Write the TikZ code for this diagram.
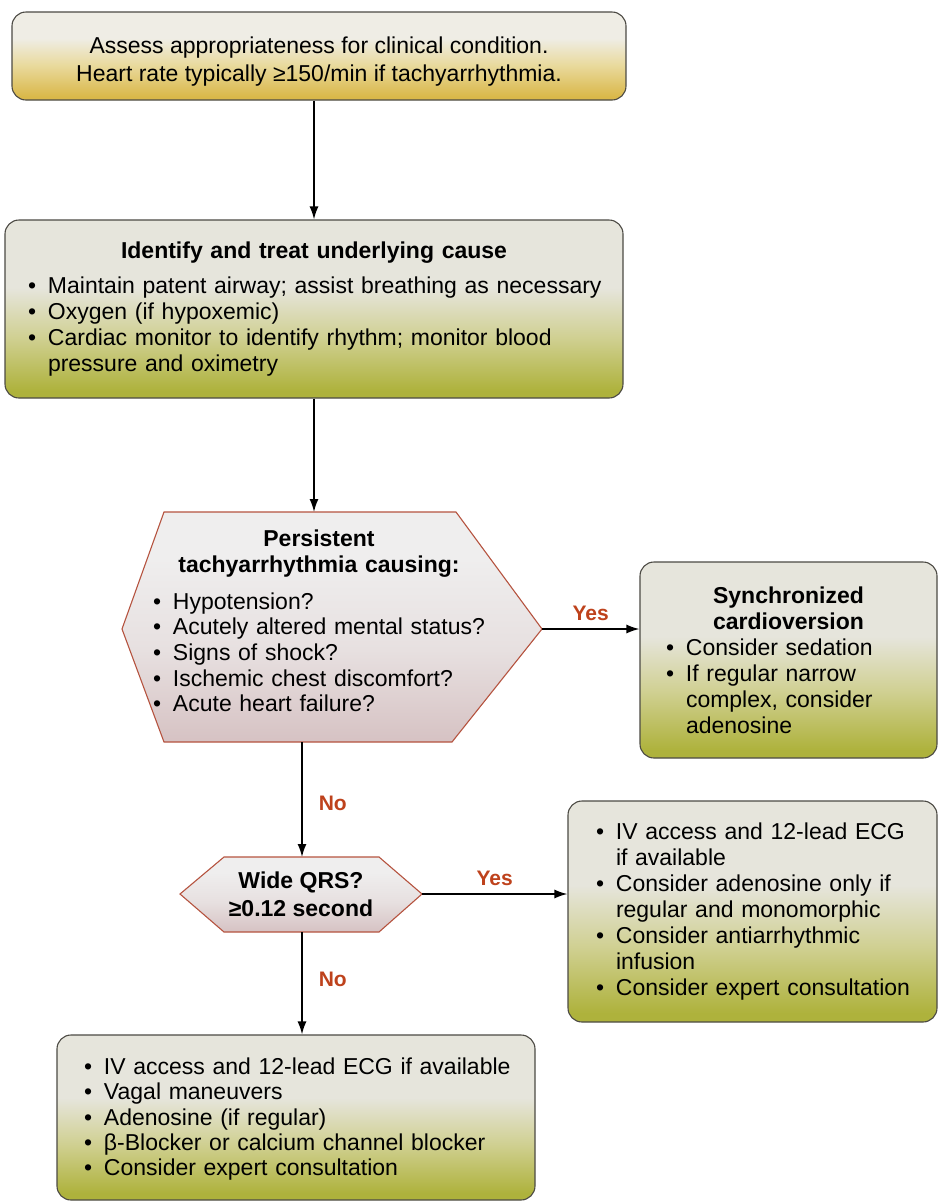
\documentclass[tikz,border=0pt]{standalone}
\usepackage{fontspec}
\setmainfont{Liberation Sans}
\usetikzlibrary{arrows.meta}

\definecolor{boxline}{HTML}{4C4A44}
\definecolor{paleY}{HTML}{EFEDE5}
\definecolor{goldM}{HTML}{E9DA9E}
\definecolor{goldB}{HTML}{DAB84A}
\definecolor{paleG}{HTML}{E6E5DC}
\definecolor{oliveM}{HTML}{D0D092}
\definecolor{oliveB}{HTML}{AEB23C}
\definecolor{hexT}{HTML}{EFEEEE}
\definecolor{hexM}{HTML}{E7E0E0}
\definecolor{hexB}{HTML}{D6C2C3}
\definecolor{hexline}{HTML}{B5533F}
\definecolor{answer}{HTML}{BE421C}

% vertical fades: 25bp = bottom edge, 75bp = top edge
\pgfdeclareverticalshading{goldfade}{100bp}{color(0bp)=(goldB); color(27bp)=(goldB); color(45bp)=(goldM); color(60bp)=(paleY); color(100bp)=(paleY)}
\pgfdeclareverticalshading{olivefade}{100bp}{color(0bp)=(oliveB); color(27bp)=(oliveB); color(42bp)=(oliveM); color(56bp)=(paleG); color(100bp)=(paleG)}
\pgfdeclareverticalshading{rosefade}{100bp}{color(0bp)=(hexB); color(25bp)=(hexB); color(45bp)=(hexM); color(65bp)=(hexT); color(100bp)=(hexT)}

% one bulleted line, a continuation line, and a centred bold heading
\newcommand\itm[1]{\mbox{\makebox[20pt][l]{\textbullet}#1}}
\newcommand\cnt[1]{\mbox{\hspace*{20pt}#1}}
\newcommand\ttl[1]{\makebox[\linewidth][c]{\bfseries #1}}

\tikzset{
  box/.style={draw=boxline, line width=1.1pt, rounded corners=14pt,
    align=left, font=\fontsize{23}{26}\selectfont, inner ysep=0pt},
  hexshape/.style={draw=hexline, line width=1.1pt, shading=rosefade, line join=miter},
  hextext/.style={align=left, font=\fontsize{23}{25.7}\selectfont, inner sep=0pt},
  arr/.style={line width=1.6pt, -{Latex[length=13pt,width=9pt]}},
  lbl/.style={font=\bfseries\fontsize{21}{24}\selectfont, text=answer, inner sep=2pt}
}

\begin{document}
\begin{tikzpicture}[x=1pt,y=-1pt]
\useasboundingbox (0,0) rectangle (938,1203);

% entry box
\node[box, shading=goldfade, align=center, font=\fontsize{23}{28}\selectfont,
      minimum width=614pt, minimum height=88pt] (start) at (319,56)
  {\rule{0pt}{28pt}Assess appropriateness for clinical condition.\\
   Heart rate typically ≥150/min if tachyarrhythmia.};

% underlying cause
\node[box, shading=olivefade, minimum width=618pt, minimum height=178pt,
      inner xsep=23pt, text width=572pt] (cause) at (314,309)
  {\ttl{Identify and treat underlying cause}\\[9pt]
   \itm{Maintain patent airway; assist breathing as necessary}\\
   \itm{Oxygen (if hypoxemic)}\\
   \itm{Cardiac monitor to identify rhythm; monitor blood}\\
   \cnt{pressure and oximetry}};

% first decision hexagon
\coordinate (hA-l)  at (122,629);
\coordinate (hA-tl) at (164,512);
\coordinate (hA-tr) at (456,512);
\coordinate (hA-r)  at (542,629);
\coordinate (hA-br) at (452,742);
\coordinate (hA-bl) at (164,742);
\coordinate (hA-t)  at (314,512);
\coordinate (hA-b)  at (302,742);
\path[hexshape] (hA-l) -- (hA-tl) -- (hA-tr) -- (hA-r) -- (hA-br) -- (hA-bl) -- cycle;
\node[hextext, text width=332pt] (persist) at (319,621)
  {\ttl{Persistent}\\
   \ttl{tachyarrhythmia causing:}\\[11pt]
   \itm{Hypotension?}\\
   \itm{Acutely altered mental status?}\\
   \itm{Signs of shock?}\\
   \itm{Ischemic chest discomfort?}\\
   \itm{Acute heart failure?}};

% cardioversion
\node[box, shading=olivefade, minimum width=297pt, minimum height=196pt,
      inner xsep=26pt, text width=245pt] (cv) at (788.5,660)
  {\ttl{Synchronized}\\
   \ttl{cardioversion}\\
   \itm{Consider sedation}\\
   \itm{If regular narrow}\\
   \cnt{complex, consider}\\
   \cnt{adenosine}};

% second decision hexagon
\coordinate (hB-l)  at (180,894);
\coordinate (hB-tl) at (224,857);
\coordinate (hB-tr) at (379,857);
\coordinate (hB-r)  at (422,894);
\coordinate (hB-br) at (379,932);
\coordinate (hB-bl) at (224,932);
\coordinate (hB-t)  at (302,857);
\coordinate (hB-b)  at (302,932);
\path[hexshape] (hB-l) -- (hB-tl) -- (hB-tr) -- (hB-r) -- (hB-br) -- (hB-bl) -- cycle;
\node[hextext, align=center, font=\bfseries\fontsize{23}{28}\selectfont] (qrs) at (301,894)
  {Wide QRS?\\ ≥0.12 second};

% wide complex
\node[box, shading=olivefade, minimum width=369pt, minimum height=221pt,
      inner xsep=28pt, text width=313pt] (wide) at (752.5,911.5)
  {\itm{IV access and 12-lead ECG}\\
   \cnt{if available}\\
   \itm{Consider adenosine only if}\\
   \cnt{regular and monomorphic}\\
   \itm{Consider antiarrhythmic}\\
   \cnt{infusion}\\
   \itm{Consider expert consultation}};

% narrow complex
\node[box, shading=olivefade, minimum width=478pt, minimum height=165pt,
      inner xsep=27pt, text width=424pt, font=\fontsize{23}{25.4}\selectfont] (narrow) at (296,1117.5)
  {\rule{0pt}{20pt}\itm{IV access and 12-lead ECG if available}\\
   \itm{Vagal maneuvers}\\
   \itm{Adenosine (if regular)}\\
   \itm{β-Blocker or calcium channel blocker}\\
   \itm{Consider expert consultation}};

% connectors
\draw[arr] (cause.north |- start.south) -- (cause.north);
\draw[arr] (cause.south) -- (hA-t);
\draw[arr] (hA-r) -- (hA-r -| cv.west)
  node[lbl, midway, above=6pt] (yes1) {Yes};
\draw[arr] (hA-b) -- (hB-t)
  node[lbl, midway, right=14pt, yshift=-4pt] (no1) {No};
\draw[arr] (hB-r) -- (hB-r -| wide.west)
  node[lbl, midway, above=6pt] (yes2) {Yes};
\draw[arr] (hB-b) -- (hB-b |- narrow.north)
  node[lbl, midway, right=14pt, yshift=4pt] (no2) {No};
\end{tikzpicture}
\end{document}
